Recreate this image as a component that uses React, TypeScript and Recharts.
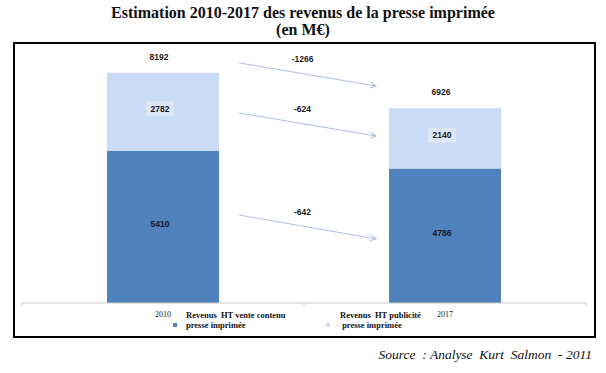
import { BarChart, Bar, XAxis, YAxis, LabelList, Customized } from 'recharts'

const CATEGORIES = ['2010', '2017']
const CONTENU = [5410, 4786]
const PUBLICITE = [2782, 2140]
const TOTALS = [8192, 6926]
const SERIES_NAMES = ['Revenus  HT vente contenu presse imprimée', 'Revenus  HT publicité presse imprimée']

// evolution arrows between the two bars (value at start / end of each arrow)
const DELTA_LABELS = ['-1266', '-624', '-642']
const DELTA_START = [8540, 6760, 3130]
const DELTA_END = [7720, 5940, 2280]

const DATA = CATEGORIES.map((year, i) => ({
  year,
  contenu: CONTENU[i],
  publicite: PUBLICITE[i],
  total: TOTALS[i],
}))

const W = 606
const H = 373
const MARGIN = { top: 50, right: 20, bottom: 58, left: 22 }
const XAXIS_H = 12
const Y_MAX = 9000
const BAR_SIZE = 112
const PLOT_W = W - MARGIN.left - MARGIN.right
const PLOT_H = H - MARGIN.top - MARGIN.bottom - XAXIS_H

const DARK = '#4f81bd'
const LIGHT = '#cadbf5'
const ARROW = '#a6bfe6'
const LABEL_FONT = { fontFamily: "'Liberation Sans', Arial, sans-serif", fontSize: 8.5, fontWeight: 700 }

const yPix = (v: number) => MARGIN.top + PLOT_H * (1 - v / Y_MAX)

function Annotations() {
  const band = PLOT_W / CATEGORIES.length
  const x1 = MARGIN.left + band / 2 + BAR_SIZE / 2 + 20
  const x2 = MARGIN.left + band * 1.5 - BAR_SIZE / 2 - 13
  const base = MARGIN.top + PLOT_H
  return (
    <g>
      <defs>
        <marker id="arrowHead" markerWidth="8" markerHeight="8" refX="6" refY="3" orient="auto" markerUnits="userSpaceOnUse">
          <path d="M0,0 L6,3 L0,6" fill="none" stroke={ARROW} strokeWidth={1} />
        </marker>
      </defs>
      {[0, 1, 2].map((i) => (
        <line key={i} x1={MARGIN.left + band * i} x2={MARGIN.left + band * i} y1={base} y2={base + 3} stroke="#c8c8c8" />
      ))}
      {DELTA_LABELS.map((lab, i) => {
        const ya = yPix(DELTA_START[i])
        const yb = yPix(DELTA_END[i])
        return (
          <g key={lab}>
            <line x1={x1} y1={ya} x2={x2} y2={yb} stroke={ARROW} strokeWidth={1} markerEnd="url(#arrowHead)" />
            <text x={(x1 + x2) / 2 - 5} y={(ya + yb) / 2 - 15} textAnchor="middle" dominantBaseline="central" fill="#1a1a1a" {...LABEL_FONT}>
              {lab}
            </text>
          </g>
        )
      })}
    </g>
  )
}

function BoxedLabel(props: any) {
  const { x, y, width, height, value } = props
  const cx = x + width / 2 - 3
  const cy = y + height / 2 - 3
  return (
    <g>
      <rect x={cx - 14} y={cy - 7.5} width={28} height={15} fill="#dce6f4" />
      <text x={cx} y={cy} textAnchor="middle" dominantBaseline="central" fill="#1a1a1a" {...LABEL_FONT}>
        {value}
      </text>
    </g>
  )
}

function CenterLabel(props: any) {
  const { x, y, width, height, value } = props
  return (
    <text x={x + width / 2 - 3} y={y + height / 2 - 3} textAnchor="middle" dominantBaseline="central" fill="#1a1a1a" {...LABEL_FONT}>
      {value}
    </text>
  )
}

function TotalLabel(props: any) {
  const { x, y, width, value } = props
  return (
    <text x={x + width / 2 - 4} y={y - 16} textAnchor="middle" dominantBaseline="central" fill="#1a1a1a" {...LABEL_FONT}>
      {value}
    </text>
  )
}

const legendText = {
  position: 'absolute' as const,
  fontFamily: "'Liberation Serif', 'Times New Roman', serif",
  fontWeight: 700,
  fontSize: 8.5,
  lineHeight: '9.5px',
  color: '#111',
  whiteSpace: 'pre' as const,
}

export default function App() {
  const [n1, n2] = SERIES_NAMES.map((s) => s.split(' presse'))
  return (
    <div style={{ position: 'absolute', left: 0, top: 0, width: W, height: H, background: '#fff', overflow: 'hidden' }}>
      <div
        style={{
          position: 'absolute',
          left: 0,
          top: 4,
          width: W,
          textAlign: 'center',
          fontFamily: "'Liberation Serif', 'Times New Roman', serif",
          fontWeight: 700,
          fontSize: 16,
          lineHeight: '17px',
          color: '#111',
        }}
      >
        Estimation 2010-2017 des revenus de la presse imprimée
        <br />
        (en M€)
      </div>
      <div style={{ position: 'absolute', left: 13, top: 42, width: 579, height: 292, border: '2px solid #000' }} />
      <div style={{ position: 'absolute', left: 0, top: 0 }}>
        <BarChart width={W} height={H} data={DATA} margin={MARGIN}>
          <XAxis
            dataKey="year"
            height={XAXIS_H}
            axisLine={{ stroke: '#c8c8c8' }}
            tickLine={false}
            tick={{ fill: '#222', fontSize: 8, fontFamily: "'Liberation Serif', serif" }}
          />
          <YAxis hide domain={[0, Y_MAX]} />
          <Bar dataKey="contenu" stackId="a" fill={DARK} barSize={BAR_SIZE} isAnimationActive={false}>
            <LabelList dataKey="contenu" content={CenterLabel} />
          </Bar>
          <Bar dataKey="publicite" stackId="a" fill={LIGHT} barSize={BAR_SIZE} isAnimationActive={false}>
            <LabelList dataKey="publicite" content={BoxedLabel} />
            <LabelList dataKey="total" content={TotalLabel} />
          </Bar>
          <Customized component={<Annotations />} />
        </BarChart>
      </div>
      <div style={{ position: 'absolute', left: 173, top: 323, width: 4, height: 4, background: DARK }} />
      <div style={{ ...legendText, left: 186, top: 311 }}>
        {n1[0]}
        <br />
        {'presse' + n1[1]}
      </div>
      <div style={{ position: 'absolute', left: 326, top: 323, width: 4, height: 4, background: LIGHT }} />
      <div style={{ ...legendText, left: 340, top: 311 }}>
        {n2[0]}
        <br />
        {' presse' + n2[1]}
      </div>
      <div
        style={{
          position: 'absolute',
          right: 14,
          top: 347,
          fontFamily: "'Liberation Serif', 'Times New Roman', serif",
          fontStyle: 'italic',
          fontSize: 13.5,
          color: '#111',
          whiteSpace: 'pre',
        }}
      >
        {'Source  : Analyse  Kurt  Salmon  - 2011'}
      </div>
    </div>
  )
}
